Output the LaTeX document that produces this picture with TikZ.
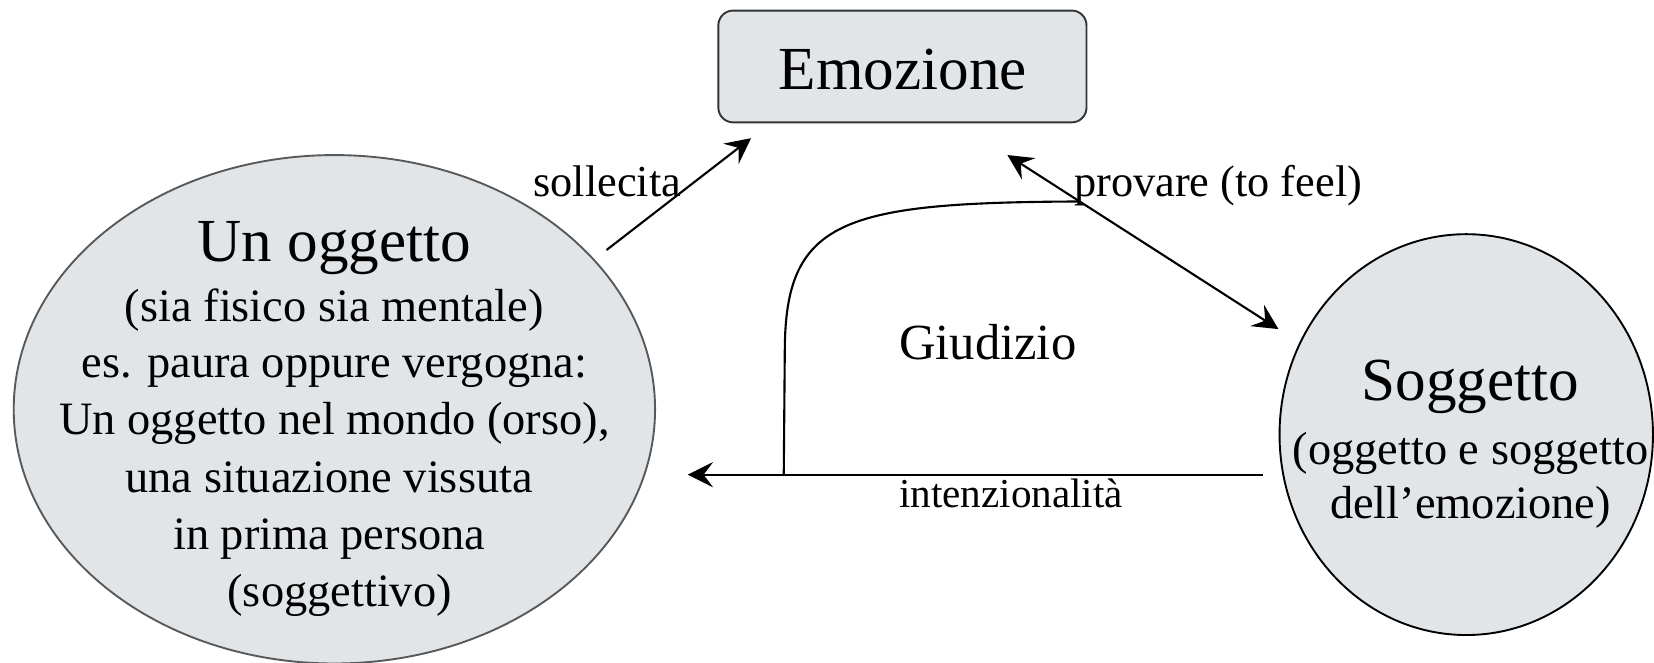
\documentclass[tikz,border=0pt]{standalone}
\usepackage{fontspec}
\setmainfont{Liberation Serif}
\usetikzlibrary{arrows.meta,shapes.geometric}
\definecolor{shapefill}{HTML}{E2E5E8}
\tikzset{
  conn/.style={line width=1pt, -{Stealth[length=12pt,width=12pt,inset=4.5pt]}},
  dconn/.style={line width=1pt, {Stealth[length=12pt,width=12pt,inset=4.5pt]}-{Stealth[length=12pt,width=12pt,inset=4.5pt]}},
  plain/.style={line width=1pt},
  big/.style={font=\fontsize{29}{34}\selectfont, inner sep=0pt, anchor=base},
  body/.style={font=\fontsize{22}{27}\selectfont, inner sep=0pt, anchor=base},
  lab/.style={font=\fontsize{21}{25}\selectfont, inner sep=0pt},
}
\begin{document}
\begin{tikzpicture}[x=0.5pt,y=-0.5pt]
\useasboundingbox (0,0) rectangle (1568,628);
% shapes
\node (emo) [draw=black!80, fill=shapefill, rounded corners=7pt, line width=0.9pt,
  minimum width=174.5pt, minimum height=53pt, inner sep=0pt] at (855.5,63) {};
\node (ogg) [ellipse, draw=black!65, fill=shapefill, line width=0.9pt,
  minimum width=304pt, minimum height=241pt, inner sep=0pt] at (317,388) {};
\node (sog) [ellipse, draw=black, fill=shapefill, line width=0.9pt,
  minimum width=177pt, minimum height=190pt, inner sep=0pt] at (1390,412) {};
% texts
\node (emot) [big] at (856,85) {Emozione};
\node (o1) [big] at (317,248) {Un oggetto};
\node (o2) [body] at (317,305) {(sia fisico sia mentale)};
\node (o3) [body] at (317,358) {es. paura oppure vergogna:};
\node (o4) [body] at (317,412) {Un oggetto nel mondo (orso),};
\node (o5) [body] at (312,467) {una situazione vissuta};
\node (o6) [body] at (312,521) {in prima persona};
\node (o7) [body] at (322,575) {(soggettivo)};
\node (s1) [big] at (1394,380) {Soggetto};
\node (s2) [body] at (1394,440) {(oggetto e soggetto};
\node (s3) [body] at (1394,492) {dell’emozione)};
\node (giu) [font=\fontsize{24}{28}\selectfont, inner sep=0pt, anchor=base west] at (852,341) {Giudizio};
% connector end points
\coordinate (a1) at (575,237);
\coordinate (a2) at (712,131);
\coordinate (b1) at (955,147);
\coordinate (b2) at (1212,312);
\coordinate (c1) at (1197,450);
\coordinate (c2) at (652,450);
\coordinate (d1) at (1023,191);
\coordinate (d2) at (743,450);
% connectors
\draw[conn] (a1) -- (a2);
\draw[dconn] (b1) -- (b2);
\draw[conn] (c1) -- (c2);
\draw[plain] (d1) .. controls (800,192) and (745,208) .. (744,330) -- (d2);
% labels
\node (l1) [lab, anchor=base east] at (646,186) {sollecita};
\node (l2) [lab, anchor=base west] at (1018,186) {provare (to feel)};
\node (l3) [font=\fontsize{19.5}{23}\selectfont, inner sep=0pt, anchor=base west] at (852,481) {intenzionalità};
\end{tikzpicture}
\end{document}
